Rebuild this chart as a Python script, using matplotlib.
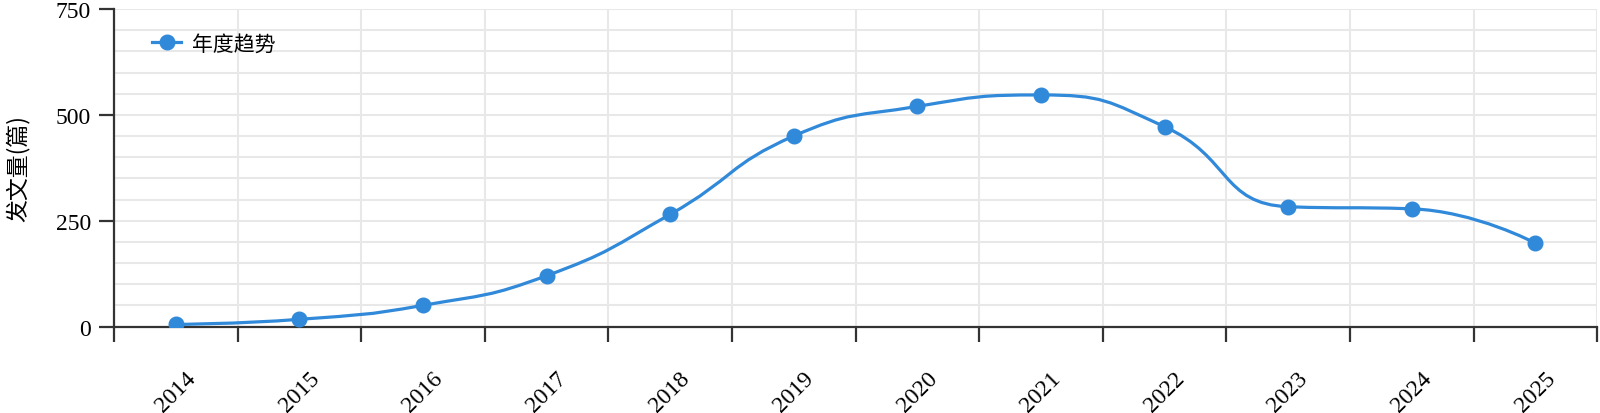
import matplotlib.pyplot as plt
import numpy as np
from matplotlib.path import Path
from matplotlib.patches import PathPatch
from matplotlib.lines import Line2D

years = ["2014", "2015", "2016", "2017", "2018", "2019",
         "2020", "2021", "2022", "2023", "2024", "2025"]
counts = [5, 17, 50, 120, 265, 450, 520, 547, 472, 283, 278, 197]
series_name = "年度趋势"
y_label = "发文量(篇)"

color = "#3189d9"


def smooth_controls(px, py, smooth=0.5):
    # echarts-style bezier smoothing (done in pixel-like units)
    n = len(px)
    verts = [(px[0], py[0])]
    codes = [Path.MOVETO]
    cp0x, cp0y = px[0], py[0]
    for i in range(1, n):
        x, y = px[i], py[i]
        prevx, prevy = px[i - 1], py[i - 1]
        if i < n - 1:
            nx, ny = px[i + 1], py[i + 1]
            vx, vy = nx - prevx, ny - prevy
            lp = np.hypot(x - prevx, y - prevy)
            ln = np.hypot(nx - x, ny - y)
            r = ln / (ln + lp)
            ncx = x + vx * smooth * r
            ncy = y + vy * smooth * r
            ncx = max(min(ncx, max(nx, x)), min(nx, x))
            ncy = max(min(ncy, max(ny, y)), min(ny, y))
            vx, vy = ncx - x, ncy - y
            c1x = x - vx * lp / ln
            c1y = y - vy * lp / ln
            c1x = max(min(c1x, max(prevx, x)), min(prevx, x))
            c1y = max(min(c1y, max(prevy, y)), min(prevy, y))
            vx, vy = x - c1x, y - c1y
            ncx = x + vx * ln / lp
            ncy = y + vy * ln / lp
        else:
            c1x, c1y = x, y
            ncx, ncy = x, y
        verts += [(cp0x, cp0y), (c1x, c1y), (x, y)]
        codes += [Path.CURVE4] * 3
        cp0x, cp0y = ncx, ncy
    return verts, codes


fig = plt.figure(figsize=(16, 4.14), dpi=100)
ax = fig.add_axes([0.07125, 0.2089, 0.9270, 0.7669])

n = len(years)
xs = np.arange(n)
ax.set_xlim(-0.5, n - 0.5)
ax.set_ylim(0, 750)

sx, sy = 123.5, 317 / 750
verts, codes = smooth_controls(xs * sx, np.array(counts) * sy)
verts = [(vx / sx, vy / sy) for vx, vy in verts]
ax.add_patch(PathPatch(Path(verts, codes), fill=False, edgecolor=color,
                       lw=2.3, zorder=3, capstyle="round"))
ax.plot(xs, counts, "o", color=color, markersize=10.5, zorder=4)

# grid
for b in np.arange(-0.5, n, 1.0):
    ax.axvline(b, color="#e8e8e8", lw=1.5, zorder=0)
for v in range(50, 751, 50):
    ax.axhline(v, color="#e8e8e8", lw=1.5, zorder=0)

ax.spines["top"].set_visible(False)
ax.spines["right"].set_visible(False)
for s in ("left", "bottom"):
    ax.spines[s].set_color("#333333")
    ax.spines[s].set_linewidth(1.6)

ax.set_yticks([0, 250, 500, 750])
ax.set_yticklabels(["0", "250", "500", "750"], fontfamily="Liberation Serif", fontsize=17)
ax.tick_params(axis="y", length=11, width=1.6, color="#333333", pad=5.5)

ax.set_xticks(np.arange(-0.5, n, 1.0))
ax.set_xticklabels([])
ax.tick_params(axis="x", which="major", length=11, width=1.6, color="#333333")
ax.set_xticks(xs, minor=True)
ax.set_xticklabels(years, minor=True, rotation=45, ha="center", va="center",
                   fontfamily="Liberation Serif", fontsize=17)
ax.tick_params(axis="x", which="minor", length=0, pad=47)

ax.set_ylabel(y_label, fontfamily=["Noto Sans CJK SC", "DejaVu Sans"], fontsize=16.5, labelpad=19)

handle = Line2D([], [], color=color, lw=2.3, marker="o", markersize=10.5)
leg = ax.legend([handle], [series_name], loc="upper left", bbox_to_anchor=(0.020, 0.952),
                frameon=False, handlelength=1.4, handletextpad=0.5, borderaxespad=0,
                prop={"family": ["Noto Sans CJK SC", "DejaVu Sans"], "size": 15})

fig.savefig("out.png", dpi=100)
